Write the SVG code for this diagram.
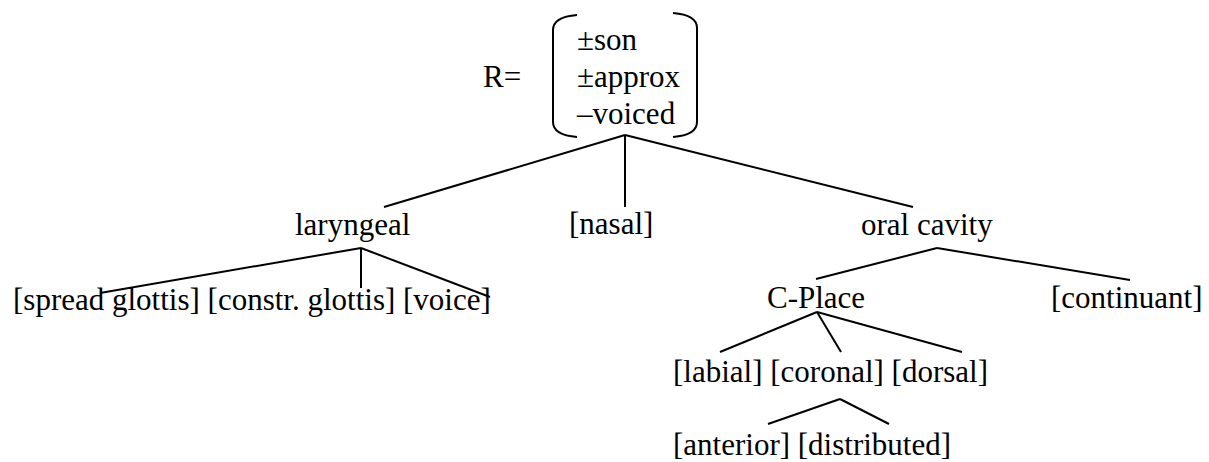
<svg xmlns="http://www.w3.org/2000/svg" width="1209" height="462" viewBox="0 0 1209 462">
<style>
text{font-family:'Liberation Serif','Times New Roman',Times,Tinos,'DejaVu Serif',serif;font-size:31px;fill:#000}
.e line,.b{stroke:#000;stroke-width:2;fill:none}
</style>
<rect width="1209" height="462" fill="#fff"/>
<g id="root">
<text x="483" y="87">R=</text>
<path class="b" d="M577,15 Q553,17 553,30 L553,122 Q553,135 577,137"/>
<path class="b" d="M673,13 Q697,15 697,28 L697,122 Q697,135 673,137"/>
<text x="577" y="50">±son</text>
<text x="577" y="87">±approx</text>
<text x="577" y="124">–voiced</text>
</g>
<g id="laryngeal"><text x="295" y="235">laryngeal</text></g>
<g id="nasal"><text x="569" y="234">[nasal]</text></g>
<g id="oral"><text x="861" y="235">oral cavity</text></g>
<g id="lar-children"><text x="13" y="310">[spread glottis] [constr. glottis] [voice]</text></g>
<g id="cplace"><text x="767" y="308">C-Place</text></g>
<g id="continuant"><text x="1051" y="308">[continuant]</text></g>
<g id="places"><text x="673" y="382">[labial] [coronal] [dorsal]</text></g>
<g id="coronal-children"><text x="673" y="455">[anterior] [distributed]</text></g>
<g id="edges" class="e">
<line x1="625" y1="135" x2="384" y2="207"/>
<line x1="625" y1="135" x2="625" y2="207"/>
<line x1="625" y1="135" x2="913" y2="207"/>
<line x1="361" y1="248" x2="100" y2="293"/>
<line x1="361" y1="248" x2="361" y2="288"/>
<line x1="361" y1="248" x2="490" y2="297"/>
<line x1="937" y1="248" x2="816" y2="279"/>
<line x1="937" y1="248" x2="1130" y2="280"/>
<line x1="817" y1="312" x2="720" y2="352"/>
<line x1="817" y1="312" x2="841" y2="352"/>
<line x1="817" y1="312" x2="962" y2="352"/>
<line x1="840" y1="399" x2="768" y2="424"/>
<line x1="840" y1="399" x2="889" y2="424"/>
</g>
</svg>
